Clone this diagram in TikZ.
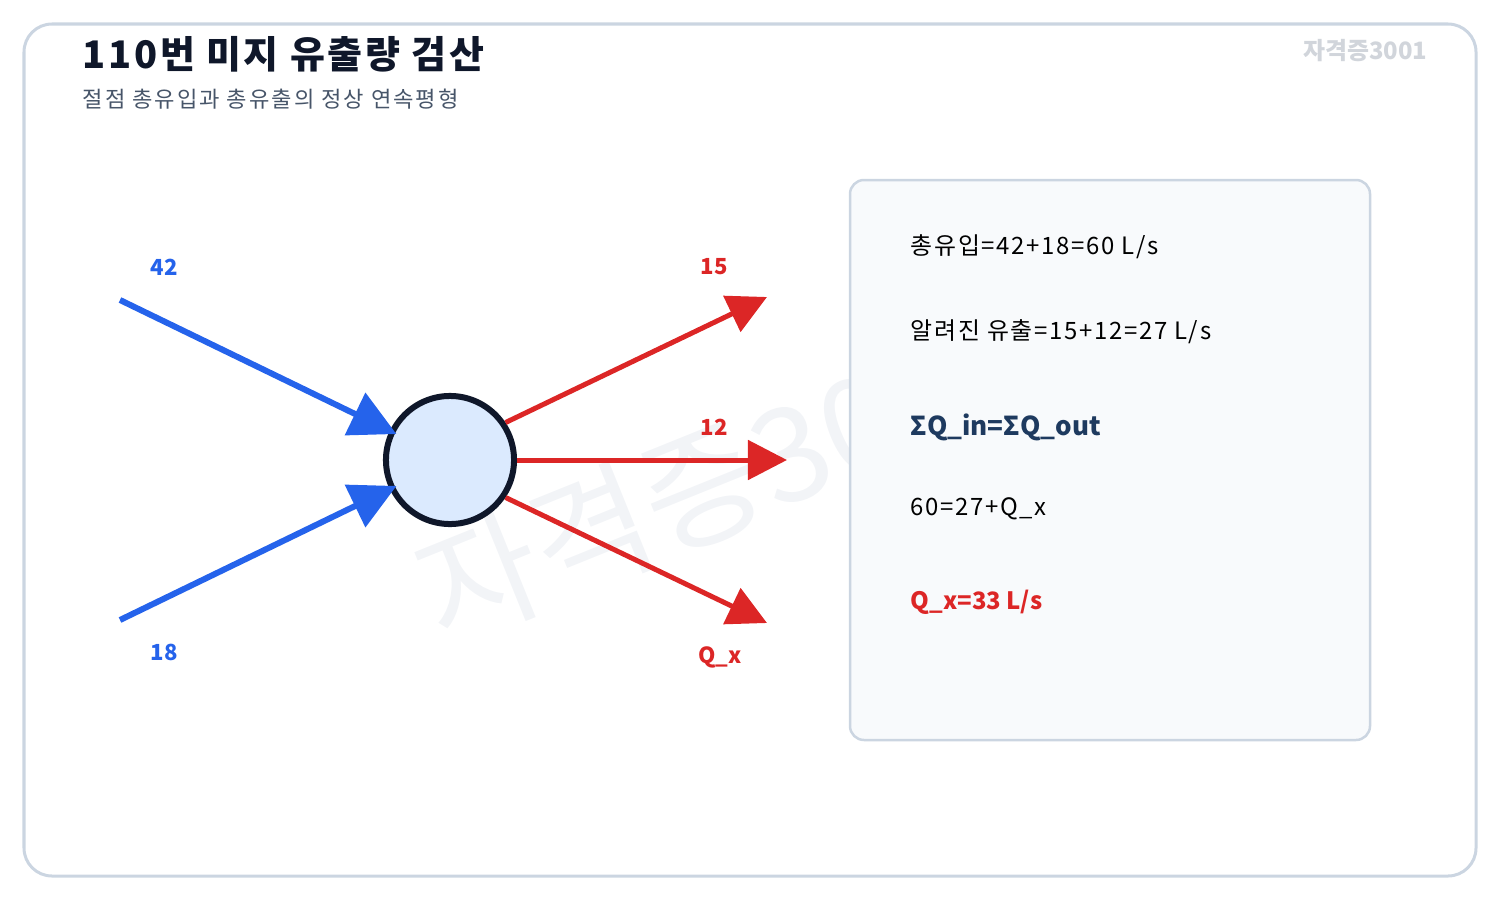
\documentclass[tikz,border=0pt]{standalone}
\usepackage{fontspec}
\setmainfont{Noto Sans CJK KR}
\usetikzlibrary{arrows.meta}
\definecolor{flowblue}{HTML}{2563EB}
\definecolor{flowred}{HTML}{DC2626}
\definecolor{inkdark}{HTML}{0F172A}
\definecolor{nodefill}{HTML}{DBEAFE}
\definecolor{panelfill}{HTML}{F8FAFC}
\definecolor{panelline}{HTML}{CBD5E1}
\definecolor{subgray}{HTML}{475569}
\definecolor{eqnavy}{HTML}{1E3A5F}
\definecolor{markgray}{HTML}{D1D5DB}
\definecolor{wmark}{HTML}{F2F4F7}

\begin{document}
\begin{tikzpicture}[x=0.01cm,y=-0.01cm]
	\tikzstyle{inflow}=[draw=flowblue,line width=0.06cm,-{Triangle[length=0.46cm,width=0.46cm]},shorten >=-0.075cm]
	\tikzstyle{outflow}=[draw=flowred,line width=0.05cm,-{Triangle[length=0.39cm,width=0.39cm]}]
	\tikzstyle{inlbl}=[text=flowblue,font=\fontsize{6.3pt}{7pt}\selectfont\bfseries]
	\tikzstyle{outlbl}=[text=flowred,font=\fontsize{6.3pt}{7pt}\selectfont\bfseries]
	\tikzstyle{calc}=[anchor=base west,inner sep=0pt,font=\fontsize{6.8pt}{8pt}\selectfont\addfontfeatures{LetterSpace=7}]
	\useasboundingbox (0,0) rectangle (1500,900);
	\draw[panelline,line width=0.03cm,rounded corners=0.28cm] (24,24) rectangle (1476,876);
	\node[anchor=base west,inner sep=0pt,text=inkdark,font=\fontsize{10.8pt}{13pt}\selectfont\bfseries\addfontfeatures{LetterSpace=7}] (title) at (82,68) {110번 미지 유출량 검산};
	\node[anchor=base west,inner sep=0pt,text=subgray,font=\fontsize{6.3pt}{8pt}\selectfont\addfontfeatures{LetterSpace=9}] (sub) at (82,107) {절점 총유입과 총유출의 정상 연속평형};
	\node[anchor=base east,inner sep=0pt,text=markgray,font=\fontsize{6.8pt}{8pt}\selectfont\bfseries] (mark) at (1428,60) {자격증3001};
	% watermark
	\node[rotate=22,text=wmark,font=\fontsize{37pt}{42pt}\selectfont] (bigmark) at (725,478) {자격증3001};
	% junction
	\node[circle,draw=inkdark,fill=nodefill,line width=0.06cm,minimum size=1.28cm,inner sep=0pt] (jn) at (450,460) {};
	\coordinate (s42) at (120,300);
	\coordinate (s18) at (120,620);
	\coordinate (t15) at (767,297);
	\coordinate (t12) at (787,460);
	\coordinate (tqx) at (767,623);
	\draw[inflow] (s42) -- (jn);
	\draw[inflow] (s18) -- (jn);
	\foreach \a/\t in {34/t15,0/t12,-34/tqx}
		\draw[outflow] (jn.\a) -- (\t);
	\node[inlbl] (l42) at (164,267) {42};
	\node[inlbl] (l18) at (164,652) {18};
	\node[outlbl] (l15) at (714,267) {15};
	\node[outlbl] (l12) at (714,427) {12};
	\node[outlbl] (lqx) at (720,657) {Q\_x};
	% balance panel
	\draw[panelline,fill=panelfill,line width=0.025cm,rounded corners=0.14cm] (850,180) rectangle (1370,740);
	\node[calc] (c1) at (910,254) {총유입=42+18=60 L/s};
	\node[calc] (c2) at (910,339) {알려진 유출=15+12=27 L/s};
	\node[calc,text=eqnavy,font=\fontsize{7.4pt}{9pt}\selectfont\bfseries] (c3) at (910,435) {ΣQ\_in=ΣQ\_out};
	\node[calc] (c4) at (910,515) {60=27+Q\_x};
	\node[calc,text=flowred,font=\fontsize{6.8pt}{8pt}\selectfont\bfseries] (c5) at (910,609) {Q\_x=33 L/s};
\end{tikzpicture}
\end{document}
